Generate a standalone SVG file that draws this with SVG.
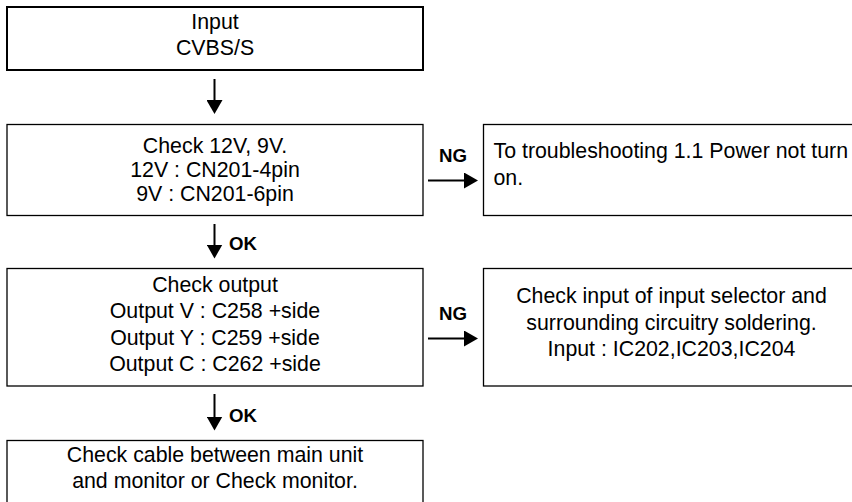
<svg xmlns="http://www.w3.org/2000/svg" width="852" height="502" viewBox="0 0 852 502">
<style>
.box{fill:#fff;stroke:#000;stroke-width:1.3}
.thick{stroke-width:2}
.t{font-family:"Liberation Sans",Arial,sans-serif;font-size:21.33px;fill:#000}
.c{text-anchor:middle}
.lbl{font-family:"Liberation Sans",Arial,sans-serif;font-size:18.67px;font-weight:bold;fill:#000}
.conn{stroke:#000;stroke-width:2;fill:none;marker-end:url(#ah)}
</style>
<defs>
<marker id="ah" viewBox="0 0 14 16" markerWidth="14" markerHeight="16" markerUnits="userSpaceOnUse" refX="10" refY="8" orient="auto">
<path d="M0,0 L14,8 L0,16 Z" fill="#000"/>
</marker>
</defs>
<rect width="852" height="502" fill="#fff"/>
<g id="n-input">
<rect class="box thick" x="7" y="7" width="416" height="63"/>
<text class="t c" x="215" y="29">Input</text>
<text class="t c" x="215" y="55">CVBS/S</text>
</g>
<g id="n-check12v">
<rect class="box" x="7" y="124.5" width="416" height="91"/>
<text class="t c" x="215" y="152.5">Check 12V, 9V.</text>
<text class="t c" x="215" y="176.5">12V : CN201-4pin</text>
<text class="t c" x="215" y="200.5">9V : CN201-6pin</text>
</g>
<g id="n-power">
<rect class="box" x="483.5" y="124.5" width="380" height="91"/>
<text class="t" x="493.5" y="157.5">To troubleshooting 1.1 Power not turn</text>
<text class="t" x="493.5" y="184.5">on.</text>
</g>
<g id="n-checkoutput">
<rect class="box" x="7" y="268.5" width="416" height="117.5"/>
<text class="t c" x="215" y="291.5">Check output</text>
<text class="t c" x="215" y="318">Output V : C258 +side</text>
<text class="t c" x="215" y="344.5">Output Y : C259 +side</text>
<text class="t c" x="215" y="370.5">Output C : C262 +side</text>
</g>
<g id="n-selector">
<rect class="box" x="483.5" y="268.5" width="376" height="117.5"/>
<text class="t c" x="671.5" y="303">Check input of input selector and</text>
<text class="t c" x="671.5" y="329.5">surrounding circuitry soldering.</text>
<text class="t c" x="671.5" y="356">Input : IC202,IC203,IC204</text>
</g>
<g id="n-cable">
<rect class="box" x="7" y="440.5" width="416" height="70"/>
<text class="t c" x="215" y="461.5">Check cable between main unit</text>
<text class="t c" x="215" y="488">and monitor or Check monitor.</text>
</g>
<g id="connectors">
<line class="conn" x1="214.5" y1="79" x2="214.5" y2="110"/>
<line class="conn" x1="214.5" y1="224" x2="214.5" y2="254.5"/>
<line class="conn" x1="214.5" y1="394" x2="214.5" y2="426.5"/>
<line class="conn" x1="428" y1="180.5" x2="474" y2="180.5"/>
<line class="conn" x1="428" y1="338.5" x2="474" y2="338.5"/>
<text class="lbl" x="229" y="250">OK</text>
<text class="lbl" x="229" y="421.5">OK</text>
<text class="lbl c" x="453" y="161.5">NG</text>
<text class="lbl c" x="453" y="320">NG</text>
</g>
</svg>
